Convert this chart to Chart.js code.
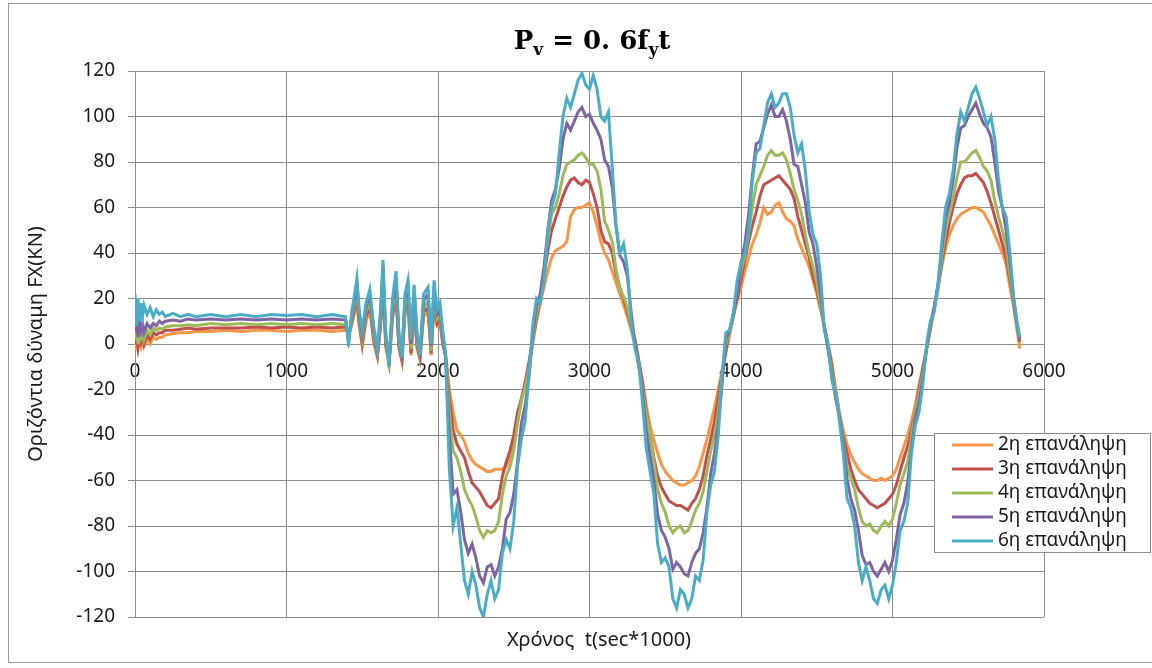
<!DOCTYPE html>
<html>
<head>
<meta charset="utf-8">
<script src="https://cdn.jsdelivr.net/npm/chart.js@4/dist/chart.umd.min.js"></script>
<style>
  body { margin: 0; background: #fff; }
  #wrap { width: 1152px; height: 668px; position: relative; }
</style>
</head>
<body>
<div id="wrap"><canvas id="fx"></canvas></div>
<script>
// time samples (sec*1000): settling, shaking, then the cyclic part
const times = [
  0, 10, 20, 30, 40, 50, 60, 80, 100, 120, 140, 160, 180, 200, 250, 300, 350, 400,
  500, 600, 700, 800, 900, 1000, 1100, 1200, 1300, 1390,
  1410, 1430, 1450, 1465, 1480, 1500, 1525, 1550, 1575, 1600, 1620, 1637, 1655, 1677,
  1700, 1723, 1742, 1762, 1782, 1802, 1822, 1842, 1862, 1881, 1905, 1934, 1955, 1974,
  1994, 2013, 2033,
  2050, 2075, 2100, 2125, 2150, 2175, 2200, 2225, 2250, 2275,
  2300, 2325, 2350, 2375, 2400, 2425, 2450, 2475, 2500, 2525,
  2550, 2575, 2600, 2625, 2650, 2675, 2700, 2725, 2750, 2775,
  2800, 2825, 2850, 2875, 2900, 2925, 2950, 2975, 3000, 3025,
  3050, 3075, 3100, 3125, 3150, 3175, 3200, 3225, 3250, 3275,
  3300, 3325, 3350, 3375, 3400, 3425, 3450, 3475, 3500, 3525,
  3550, 3575, 3600, 3625, 3650, 3675, 3700, 3725, 3750, 3775,
  3800, 3825, 3850, 3875, 3900, 3925, 3950, 3975, 4000, 4025,
  4050, 4075, 4100, 4125, 4150, 4175, 4200, 4225, 4250, 4275,
  4300, 4325, 4350, 4375, 4400, 4425, 4450, 4475, 4500, 4525,
  4550, 4575, 4600, 4625, 4650, 4675, 4700, 4725, 4750, 4775,
  4800, 4825, 4850, 4875, 4900, 4925, 4950, 4975, 5000, 5025,
  5050, 5075, 5100, 5125, 5150, 5175, 5200, 5225, 5250, 5275,
  5300, 5325, 5350, 5375, 5400, 5425, 5450, 5475, 5500, 5525,
  5550, 5575, 5600, 5625, 5650, 5675, 5700, 5725, 5750, 5775,
  5800, 5820, 5840
];

// horizontal force FX (KN) per repetition
const rep2 = [
  -3, 3, -2, 2, -1, 2, -1, 2, 0, 3, 2, 3, 3, 4, 4.5, 5, 5, 5.5,
  5.5, 6, 5.5, 6, 6, 5.5, 6, 6, 5.5, 6,
  5, 8, 14, 18, 8, -1, 10, 15, 1, -6, 7, 24, -1, -9,
  11, 20, -2, -8, 13, 17, -5, 15, -2, -7, 12, 14, -5, 17,
  8, 9, -1,
  -5, -20, -30, -38, -40, -43, -48, -51, -53, -54,
  -55, -56, -56, -55, -55, -55, -54, -50, -44, -34,
  -25, -18, -10, 0, 10, 18, 25, 32, 38, 41,
  42, 43, 45, 56, 59, 60, 60, 61, 62, 58,
  52, 45, 40, 37, 32, 27, 22, 17, 12, 6,
  0, -8, -16, -27, -36, -42, -48, -53, -56, -58,
  -60, -61, -62, -62, -61, -60, -58, -54, -48, -42,
  -35, -28, -20, -12, -4, 4, 12, 19, 25, 32,
  38, 44, 48, 53, 60, 57, 58, 61, 62, 58,
  55, 54, 52, 46, 42, 38, 34, 28, 22, 15,
  8, 0, -8, -20, -30, -38, -44, -49, -52, -55,
  -57, -58, -59, -60, -60, -59, -60, -59, -58, -55,
  -50, -45, -40, -34, -27, -18, -10, -2, 6, 15,
  24, 34, 42, 48, 52, 55, 57, 58, 59, 60,
  60, 59, 58, 55, 52, 48, 44, 40, 35, 25,
  16, 7, -2
];
const rep3 = [
  0, 5, -1, 4, 1, 4, 0, 4, 2, 5, 4, 5, 5, 6, 6, 6.5, 7, 6.5,
  7, 7, 7, 7.5, 7, 7.5, 7, 7.5, 7, 7.5,
  4, 9, 16, 20, 9, 0, 12, 17, 2, -5, 8, 27, 0, -8,
  13, 23, -1, -7, 15, 19, -4, 17, -1, -6, 14, 16, -4, 19,
  9, 11, 0,
  -5, -24, -38, -44, -47, -50, -56, -61, -63, -65,
  -68, -71, -72, -70, -68, -58, -52, -47, -40, -30,
  -24, -17, -8, 2, 11, 21, 30, 41, 50, 55,
  60, 65, 69, 72, 73, 71, 70, 72, 71, 66,
  60, 50, 45, 44, 40, 31, 25, 20, 14, 8,
  2, -7, -17, -30, -40, -50, -58, -63, -66, -69,
  -70, -71, -71, -72, -73, -70, -68, -64, -58, -49,
  -42, -34, -24, -13, -3, 6, 13, 20, 28, 37,
  45, 52, 58, 65, 70, 71, 72, 73, 74, 72,
  70, 68, 64, 56, 50, 44, 38, 30, 24, 16,
  8, -1, -10, -21, -32, -41, -48, -55, -60, -64,
  -66, -68, -70, -71, -72, -71, -70, -68, -66, -62,
  -56, -50, -45, -38, -30, -20, -11, -2, 7, 16,
  25, 36, 45, 53, 60, 66, 70, 73, 74, 74,
  75, 73, 71, 67, 62, 56, 50, 44, 38, 28,
  18, 9, 1
];
const rep4 = [
  2, 8, 0, 6, 3, 6, 2, 6, 4, 7, 6, 7, 6.5, 7.5, 8, 8, 8.5, 8,
  9, 8.5, 9, 8.5, 9, 8.5, 9, 8.5, 9, 8.5,
  3, 10, 18, 22, 11, 2, 14, 19, 4, -4, 10, 30, 2, -7,
  15, 26, 1, -6, 17, 22, -2, 20, 1, -5, 16, 19, -3, 22,
  11, 13, 2,
  -5, -30, -47, -50, -56, -64, -68, -71, -76, -82,
  -85, -82, -83, -82, -78, -66, -58, -54, -47, -35,
  -25, -19, -11, 2, 13, 22, 33, 46, 57, 60,
  66, 74, 79, 80, 81, 83, 84, 82, 79, 79,
  76, 68, 54, 50, 45, 33, 24, 21, 16, 8,
  0, -10, -20, -31, -40, -51, -64, -70, -74, -80,
  -83, -81, -80, -83, -82, -78, -73, -70, -65, -56,
  -47, -40, -30, -14, 0, 5, 12, 23, 32, 39,
  48, 60, 70, 74, 78, 83, 85, 83, 83, 84,
  81, 75, 68, 63, 57, 48, 40, 34, 27, 17,
  7, -3, -12, -21, -31, -43, -54, -59, -64, -72,
  -78, -80, -79, -82, -83, -80, -78, -80, -77, -70,
  -62, -57, -52, -41, -30, -22, -13, -3, 8, 15,
  24, 38, 50, 57, 64, 73, 80, 80, 82, 84,
  85, 82, 78, 76, 72, 63, 56, 50, 43, 30,
  19, 10, 2
];
const rep5 = [
  5, 12, 3, 10, 6, 9, 5, 9, 7, 9, 8, 10, 9, 10, 10.5, 10, 11, 10.5,
  11, 10.5, 11, 10.5, 11, 10.5, 11, 10.5, 11, 10.5,
  2, 12, 20, 26, 13, 4, 16, 22, 6, -3, 12, 34, 4, -8,
  18, 29, 3, -5, 20, 25, 0, 23, 3, -4, 19, 22, -1, 25,
  13, 15, 3,
  -6, -40, -66, -64, -74, -86, -92, -88, -94, -102,
  -105, -98, -97, -102, -98, -90, -77, -74, -66, -52,
  -35, -27, -15, 4, 17, 22, 34, 50, 63, 68,
  77, 90, 97, 94, 98, 102, 104, 100, 101, 97,
  94, 90, 81, 78, 69, 52, 39, 36, 30, 14,
  0, -9, -22, -38, -49, -60, -75, -82, -85, -90,
  -99, -96, -98, -101, -102, -96, -92, -90, -83, -72,
  -57, -48, -35, -18, 2, 6, 13, 22, 35, 44,
  57, 74, 88, 89, 95, 101, 105, 100, 100, 103,
  98, 90, 79, 78, 70, 62, 49, 44, 34, 22,
  7, -2, -14, -24, -32, -44, -59, -68, -73, -82,
  -93, -97, -96, -100, -102, -99, -96, -100, -95, -86,
  -75, -70, -61, -46, -33, -26, -15, -2, 9, 16,
  26, 42, 55, 62, 72, 86, 95, 96, 100, 103,
  106, 101, 97, 95, 91, 80, 67, 60, 50, 36,
  20, 10, 2
];
const rep6 = [
  22, 8, 20, 10, 18, 12, 17, 13, 16, 12, 15, 13, 14, 12, 13.5, 12, 13, 12,
  13, 12, 13, 12, 13, 12.5, 13, 12, 13, 12,
  -1, 14, 22, 29, 15, 6, 18, 24, 8, -2, 14, 37, 5, -10,
  20, 32, 5, -6, 22, 28, 2, 26, 5, -5, 22, 25, 0, 28,
  15, 18, 5,
  -4, -55, -80, -72, -88, -104, -110, -100, -106, -116,
  -120, -110, -104, -112, -108, -92, -86, -90, -78, -54,
  -42, -34, -14, 8, 20, 18, 28, 50, 60, 66,
  84, 100, 108, 104, 110, 116, 119, 114, 112, 118,
  112, 100, 98, 102, 78, 52, 40, 44, 33, 10,
  -2, -8, -26, -46, -56, -66, -88, -96, -94, -98,
  -112, -116, -108, -110, -116, -112, -102, -104, -95, -74,
  -62, -56, -40, -14, 5, 6, 14, 28, 36, 40,
  50, 72, 84, 86, 96, 106, 110, 104, 106, 110,
  110, 104, 92, 84, 88, 76, 58, 48, 44, 30,
  6, 0, -16, -22, -34, -48, -68, -72, -80, -96,
  -104, -98, -104, -112, -114, -108, -106, -112, -106, -96,
  -82, -78, -70, -48, -36, -30, -18, 0, 10, 14,
  26, 44, 60, 66, 76, 92, 102, 98, 104, 110,
  113, 108, 102, 96, 100, 90, 72, 60, 56, 40,
  20, 10, 3
];

const labels = ['2η επανάληψη', '3η επανάληψη', '4η επανάληψη', '5η επανάληψη', '6η επανάληψη'];
const colors = ['#F79646', '#C0504D', '#9BBB59', '#8064A2', '#4BACC6'];
const series = [rep2, rep3, rep4, rep5, rep6];

const FONT = '"Noto Sans", "DejaVu Sans", sans-serif';
const GRID = '#8c8c8c';

function toPoints(vals) {
  return vals.map((v, i) => ({x: times[i], y: v}));
}

// later repetitions first so that the 6th one ends up on top
const datasets = [];
for (let i = series.length - 1; i >= 0; i--) {
  datasets.push({
    label: labels[i],
    data: toPoints(series[i]),
    borderColor: colors[i],
    backgroundColor: colors[i],
    borderWidth: 3,
    pointRadius: 0,
    tension: 0,
    fill: false,
  });
}

// title with subscripts, axis titles, legend box and outer frame
const decor = {
  id: 'decor',
  beforeDraw(chart) {
    const c = chart.ctx;
    c.save();
    c.fillStyle = '#fff';
    c.fillRect(0, 0, chart.width, chart.height);
    c.strokeStyle = '#9a9a9a';
    c.lineWidth = 1;
    c.strokeRect(8.5, 3.5, 1160, 659);
    c.restore();
  },
  afterDraw(chart) {
    const c = chart.ctx;
    c.save();

    // P_v = 0.6 f_y t
    const big = 'bold 26px "DejaVu Serif", "Liberation Serif", serif';
    const small = 'bold 17px "DejaVu Serif", "Liberation Serif", serif';
    const parts = [
      ['P', big, 0], ['v', small, 6], [' = 0. 6f', big, 0], ['y', small, 6], ['t', big, 0]
    ];
    let w = 0;
    parts.forEach(p => { c.font = p[1]; w += c.measureText(p[0]).width; });
    let x = 592 - w / 2;
    c.fillStyle = '#000';
    c.textBaseline = 'alphabetic';
    c.textAlign = 'left';
    parts.forEach(p => {
      c.font = p[1];
      c.fillText(p[0], x, 49 + p[2]);
      x += c.measureText(p[0]).width;
    });

    // axis titles
    c.font = '20px ' + FONT;
    c.fillStyle = '#1a1a1a';
    c.textAlign = 'center';
    c.textBaseline = 'middle';
    c.fillText('Χρόνος  t(sec*1000)', 599, 640);
    c.save();
    c.translate(36, 344);
    c.rotate(-Math.PI / 2);
    c.fillText('Οριζόντια δύναμη FX(KN)', 0, 0);
    c.restore();

    // legend
    c.fillStyle = '#fff';
    c.fillRect(934, 433, 216, 119);
    c.strokeStyle = '#8a8d99';
    c.lineWidth = 1;
    c.strokeRect(934.5, 433.5, 216, 119);
    c.font = '19px ' + FONT;
    c.textAlign = 'left';
    for (let i = 0; i < labels.length; i++) {
      const y = 445 + i * 24;
      c.strokeStyle = colors[i];
      c.lineWidth = 3;
      c.beginPath();
      c.moveTo(952, y);
      c.lineTo(993, y);
      c.stroke();
      c.fillStyle = '#1a1a1a';
      c.fillText(labels[i], 998, y);
    }
    c.restore();
  }
};

const ctx = document.getElementById('fx').getContext('2d');
new Chart(ctx, {
  type: 'line',
  data: { datasets: datasets },
  options: {
    responsive: true,
    maintainAspectRatio: false,
    animation: false,
    layout: { padding: { left: 0, right: 108, top: 71, bottom: 51 } },
    plugins: {
      legend: { display: false },
      title: { display: false },
      tooltip: { enabled: false },
    },
    scales: {
      x: {
        type: 'linear',
        position: { y: 0 },
        min: 0,
        max: 6000,
        ticks: {
          stepSize: 1000, color: '#1a1a1a', font: { family: FONT, size: 19 }, padding: 10, maxRotation: 0,
          callback: v => String(v),
        },
        grid: { color: GRID, lineWidth: 1, tickLength: 6 },
        border: { color: GRID },
        afterFit: s => { s.height = 0; },
      },
      y: {
        min: -120,
        max: 120,
        ticks: { stepSize: 20, color: '#1a1a1a', font: { family: FONT, size: 19 }, padding: 13 },
        grid: { color: GRID, lineWidth: 1, tickLength: 7 },
        border: { color: GRID },
        afterFit: s => { s.width = 135; },
      }
    }
  },
  plugins: [decor]
});
</script>
</body>
</html>
